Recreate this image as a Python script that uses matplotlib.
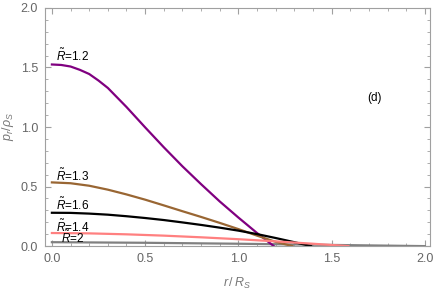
import numpy as np
import matplotlib
matplotlib.use("Agg")
import matplotlib.pyplot as plt
from matplotlib.ticker import MultipleLocator, FormatStrFormatter

# curves, x = r/R_S, y = p_r/rho_S
r12 = [0.0, 0.05, 0.1, 0.15, 0.2, 0.25, 0.3, 0.4, 0.5, 0.6, 0.7, 0.8, 0.9, 1.0, 1.1, 1.19]
p12 = [1.525, 1.521, 1.508, 1.48, 1.445, 1.39, 1.328, 1.168, 0.997, 0.83, 0.67, 0.52, 0.375, 0.24, 0.11, 0.0]

r13 = [0.0, 0.1, 0.2, 0.3, 0.4, 0.5, 0.6, 0.7, 0.8, 0.9, 1.0, 1.1, 1.2, 1.29]
p13 = [0.535, 0.528, 0.507, 0.474, 0.434, 0.39, 0.342, 0.293, 0.245, 0.195, 0.143, 0.088, 0.036, 0.0]

r16 = [0.0, 0.1, 0.2, 0.3, 0.4, 0.5, 0.6, 0.7, 0.8, 0.9, 1.0, 1.1, 1.2, 1.3, 1.39]
p16 = [0.28, 0.279, 0.273, 0.264, 0.251, 0.236, 0.219, 0.199, 0.178, 0.155, 0.13, 0.101, 0.068, 0.033, 0.0]

r14 = [0.0, 0.2, 0.4, 0.6, 0.8, 1.0, 1.2, 1.4, 1.59]
p14 = [0.11, 0.107, 0.099, 0.088, 0.074, 0.058, 0.04, 0.02, 0.0]

r20 = [0.0, 0.5, 1.0, 1.5, 2.0]
p20 = [0.033, 0.028, 0.02, 0.01, 0.0]

curves = [(r12, p12, "#800080", "1.2", 1.60),
          (r13, p13, "#996633", "1.3", 0.59),
          (r16, p16, "black", "1.6", 0.345),
          (r14, p14, "#ff8080", "1.4", 0.16)]

plt.rcParams['font.family'] = ['Liberation Sans', 'DejaVu Sans']
plt.rcParams['mathtext.fontset'] = 'custom'
plt.rcParams['mathtext.rm'] = 'Liberation Sans'
plt.rcParams['mathtext.it'] = 'Liberation Sans:italic'

fig = plt.figure(figsize=(4.36, 2.93), dpi=100)
ax = fig.add_axes([0.103, 0.160, 0.883, 0.813])

frameColor = "#a0a0a0"

ax.plot(r20, p20, color="#808080", lw=1.6)
for rr, pp, col, name, ly in curves:
    ax.plot(rr, pp, color=col, lw=1.6)
    ax.text(0.02, ly, r'$\tilde{R}$=' + name, fontsize=8.5, va="center", ha="left")
ax.text(0.05, 0.067, r'$\tilde{R}$=2', fontsize=8.5, va="center", ha="left")

ax.text(1.73, 1.24, "(d)", fontsize=8.5, va="center", ha="center")

ax.set_xlim(-0.0375, 2.027)
ax.set_ylim(0, 2.0)
ax.xaxis.set_major_locator(MultipleLocator(0.5))
ax.xaxis.set_minor_locator(MultipleLocator(0.1))
ax.yaxis.set_major_locator(MultipleLocator(0.5))
ax.yaxis.set_minor_locator(MultipleLocator(0.1))
ax.xaxis.set_major_formatter(FormatStrFormatter('%.1f'))
ax.yaxis.set_major_formatter(FormatStrFormatter('%.1f'))

ax.tick_params(which="both", direction="in", top=True, right=True,
               color=frameColor, labelcolor="#666666", labelsize=9)
ax.tick_params(which="major", length=4.5, width=0.8)
ax.tick_params(which="minor", length=2.5, width=0.6)
ax.tick_params(axis="x", which="major", pad=5)
ax.tick_params(axis="y", which="major", pad=5)
for s in ax.spines.values():
    s.set_color(frameColor)
    s.set_linewidth(0.8)

ax.set_xlabel(r'$r\,/\,R_S$', color="#777777", fontsize=9, labelpad=8)
ax.set_ylabel(r'$p_r/\rho_S$', color="#777777", fontsize=9, labelpad=3)

plt.savefig("out.png", dpi=100)
